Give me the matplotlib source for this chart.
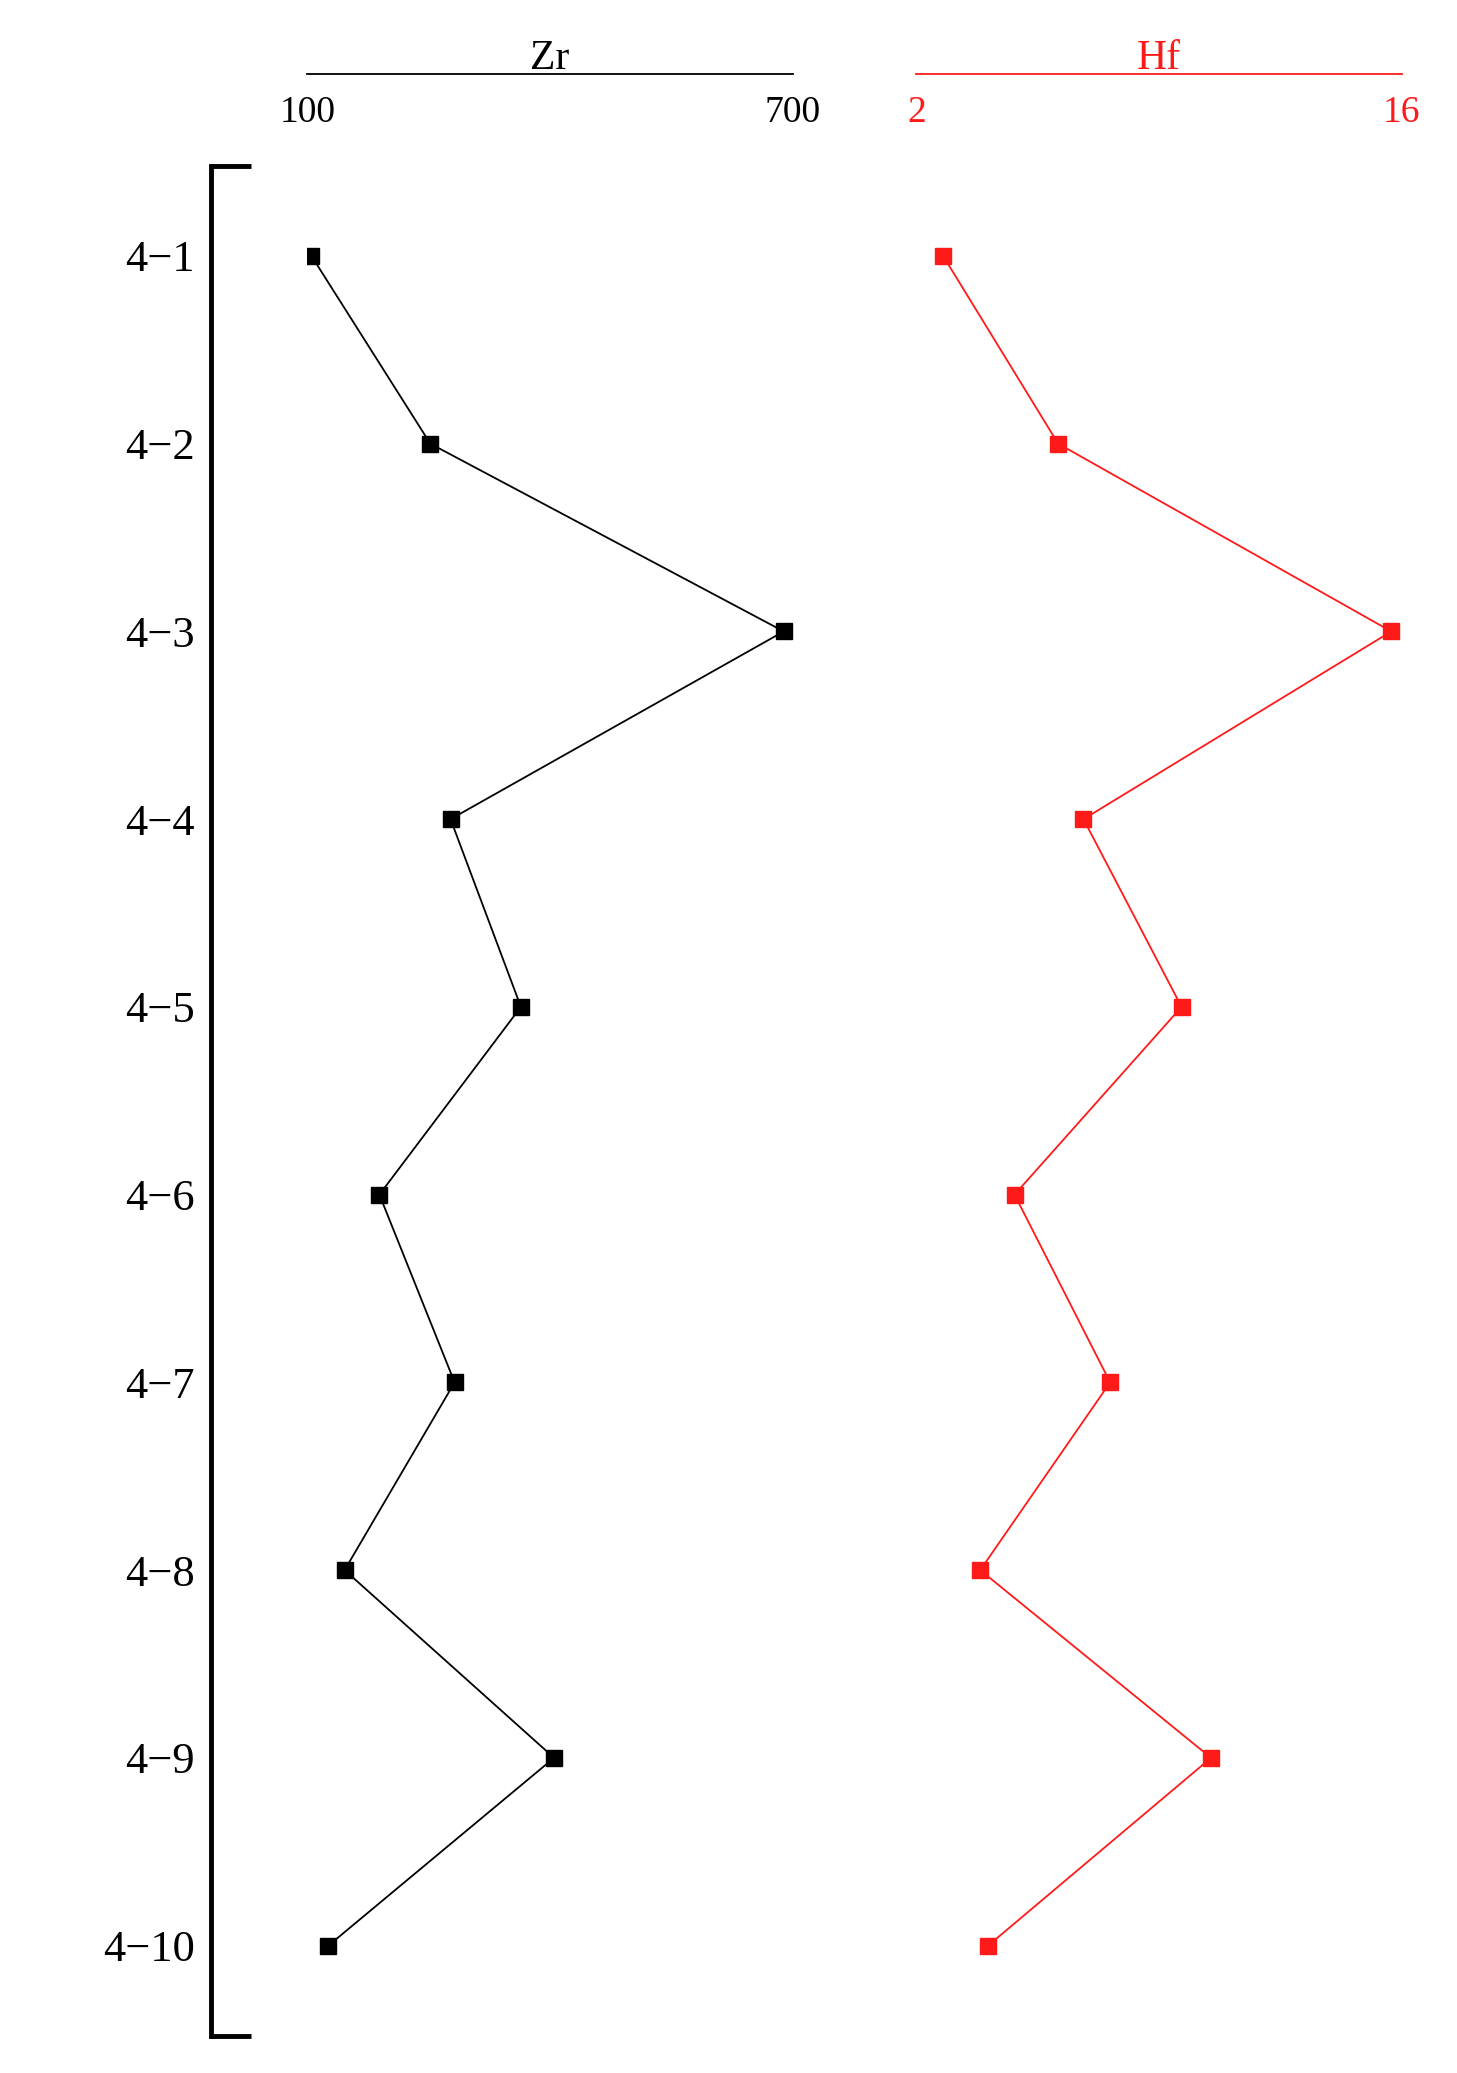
import matplotlib
matplotlib.use("Agg")
import matplotlib.pyplot as plt

samples = ["4−1", "4−2", "4−3", "4−4", "4−5", "4−6", "4−7", "4−8", "4−9", "4−10"]
zr = [105, 252, 689, 277, 364, 189, 282, 146, 405, 126]
hf = [2.77, 6.09, 15.7, 6.82, 9.65, 4.83, 7.59, 3.84, 10.5, 4.07]

plt.rcParams['font.family'] = ['Liberation Serif', 'DejaVu Serif']
fig = plt.figure(figsize=(14.57, 20.73), dpi=100)
bot, top = 0.018, 0.92
ylim = (9.48, -0.48)
ypos = list(range(len(samples)))

# bracket axis with sample labels
axb = fig.add_axes([0.145, bot, 0.05, top - bot])
axb.set_ylim(*ylim)
axb.set_xlim(0, 1)
for s in ['top', 'right', 'bottom']:
    axb.spines[s].set_visible(False)
axb.spines['left'].set_linewidth(3.5)
axb.set_xticks([])
axb.set_yticks(ypos)
axb.set_yticklabels(samples, fontsize=32)
axb.tick_params(axis='y', length=0, pad=12)
axb.plot([0, 0.55], [ylim[1], ylim[1]], color='black', lw=3.5, clip_on=False, solid_capstyle='butt')
axb.plot([0, 0.55], [ylim[0], ylim[0]], color='black', lw=3.5, clip_on=False, solid_capstyle='butt')
axb.patch.set_visible(False)

def panel(rect, vals, lim, ticks, name, color):
    ax = fig.add_axes(rect)
    ax.plot(vals, ypos, color=color, lw=1.3, marker='s', markersize=11,
            markerfacecolor=color, markeredgecolor=color)
    ax.set_xlim(*lim)
    ax.set_ylim(*ylim)
    for s in ['left', 'right', 'bottom']:
        ax.spines[s].set_visible(False)
    ax.spines['top'].set_position(('outward', 66))
    ax.spines['top'].set_color(color)
    ax.spines['top'].set_linewidth(1.3)
    ax.xaxis.set_ticks_position('top')
    ax.xaxis.set_label_position('top')
    ax.set_xticks(ticks)
    ax.set_xticklabels([str(t) for t in ticks], fontsize=27, color=color)
    ax.tick_params(axis='x', length=0, pad=-40)
    ax.set_xlabel(name, fontsize=30, color=color, labelpad=4)
    ax.set_yticks([])
    ax.patch.set_visible(False)
    return ax

panel([0.211, bot, 0.333, top - bot], zr, (100, 700), [100, 700], 'Zr', 'black')
panel([0.629, bot, 0.333, top - bot], hf, (2, 16), [2, 16], 'Hf', '#ff1a1a')

fig.savefig('out.png', dpi=100)
